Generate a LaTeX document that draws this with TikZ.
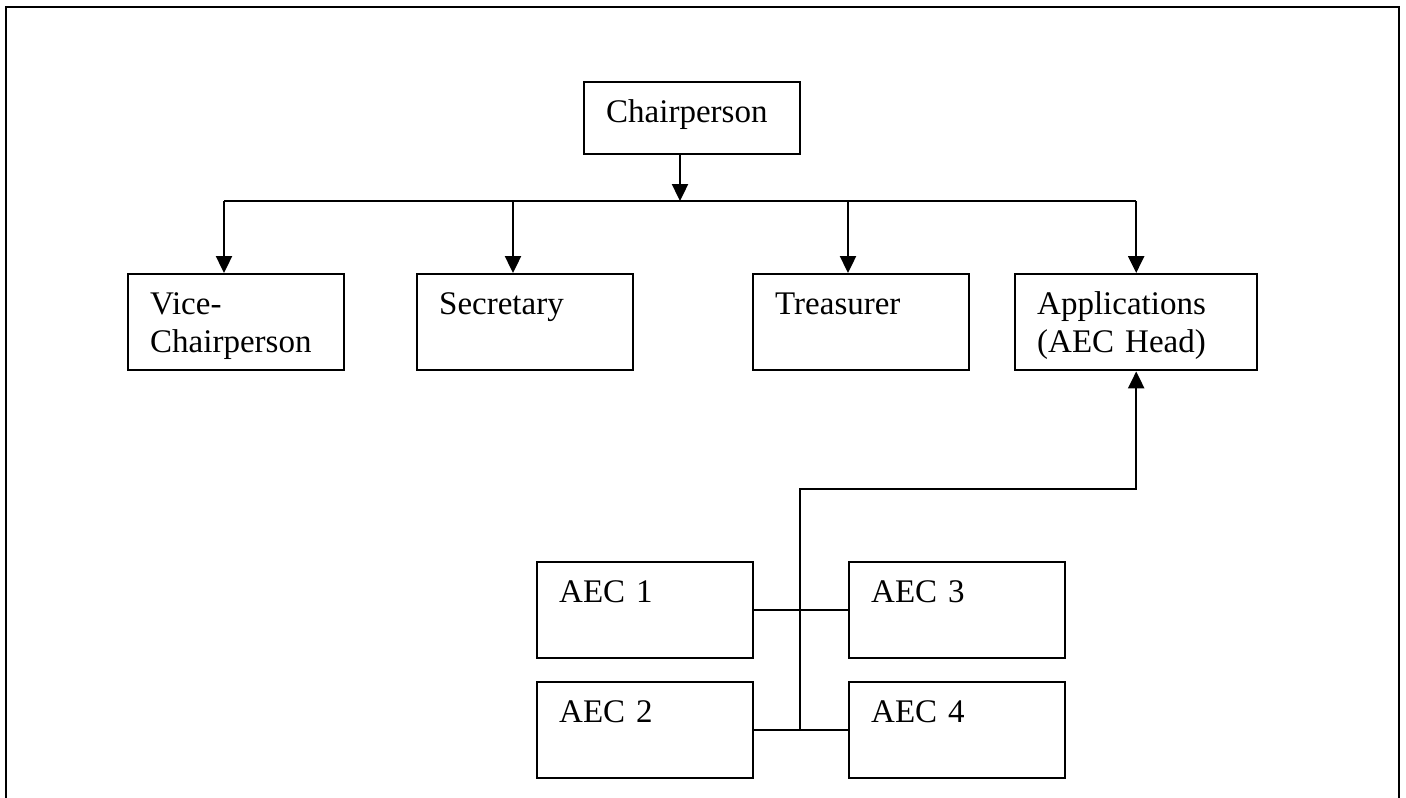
\documentclass[tikz,border=0pt]{standalone}
\usepackage{fontspec}
\setmainfont{Liberation Serif}
\usetikzlibrary{arrows.meta}
\tikzset{
  post/.style={draw, line width=2.4pt, anchor=north west, inner xsep=22pt, inner ysep=0pt,
    text width=172pt, align=left, text height=40pt, text depth=56pt,
    font=\fontsize{33}{38}\selectfont},
  link/.style={line width=2.4pt},
  arr/.style={line width=2.4pt, -{Triangle[width=16pt,length=17pt]}}
}
\begin{document}
\begin{tikzpicture}[x=1pt,y=-1pt]
        \useasboundingbox (0,0) rectangle (1406,798);
        \draw[link] (6,798) -- (6,7) -- (1399,7) -- (1399,798);

        \node[post, text depth=32pt] (chair) at (583,81) {Chairperson};
        \node[post] (vice) at (127,273) {Vice-\\Chairperson};
        \node[post] (secr) at (416,273) {Secretary};
        \node[post] (treas) at (752,273) {Treasurer};
        \node[post, text width=198pt] (appl) at (1014,273) {Applications\\(AEC Head)};
        \node[post] (aec1) at (536,561) {AEC 1};
        \node[post] (aec2) at (536,681) {AEC 2};
        \node[post] (aec3) at (848,561) {AEC 3};
        \node[post] (aec4) at (848,681) {AEC 4};

        \coordinate (bus) at (680,201);
        \coordinate (vtap) at (224,201);
        \coordinate (stap) at (513,201);
        \coordinate (ttap) at (848,201);
        \coordinate (hub) at (800,489);

        \draw[arr] (chair.south -| bus) -- (bus);
        \draw[link] (vtap) -- (vtap -| appl.north);
        \draw[arr] (vtap) -- (vtap |- vice.north);
        \draw[arr] (stap) -- (stap |- secr.north);
        \draw[arr] (ttap) -- (ttap |- treas.north);
        \draw[arr] (vtap -| appl.north) -- (appl.north);

        \draw[arr] (hub |- aec2.east) -- (hub) -| (appl.south);
        \draw[link] (aec1.east) -- (aec3.west);
        \draw[link] (aec2.east) -- (aec4.west);
\end{tikzpicture}
\end{document}
